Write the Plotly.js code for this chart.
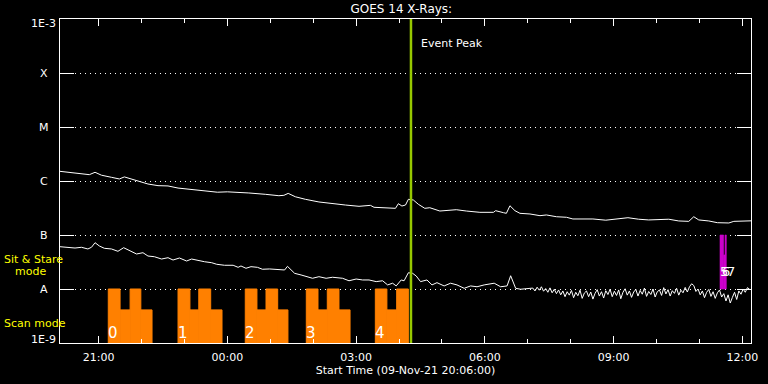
<!DOCTYPE html>
<html>
<head>
<meta charset="utf-8">
<script src="https://cdn.plot.ly/plotly-3.0.1.min.js"></script>
<style>
html,body{margin:0;padding:0;background:#000;}
#chart{width:768px;height:384px;}
</style>
</head>
<body>
<div id="chart"></div>
<script>
// ---------------- DATA ----------------
const startTime = '2021-11-09 20:06:00';
const endTime = '2021-11-10 12:12:00';

// Long channel (upper curve): minutes after start, flux (W/m^2)
const longMinutes = [0,16,27,41,49,58,72,83,90,99,111,123,137,151,165,179,193,211,220,234,246,264,287,306,313,319,329,343,362,380,399,418,434,439,466,469,473,478,483,487,494,501,510,517,531,554,568,587,606,609,620,624,629,636,643,657,671,680,694,708,717,745,763,777,794,809,823,851,865,879,886,893,907,919,935,942,958,966];
const longFlux = [1.51e-6,1.43e-6,1.35e-6,1.31e-6,1.45e-6,1.28e-6,1.17e-6,1.09e-6,1.19e-6,1.09e-6,
  9.6e-7,8.8e-7,8.2e-7,8.1e-7,7.4e-7,7.1e-7,6.8e-7,6.45e-7,6.2e-7,6.3e-7,
  6.1e-7,6.0e-7,5.67e-7,5.34e-7,5.43e-7,5.9e-7,5.11e-7,4.58e-7,4.09e-7,3.8e-7,
  3.59e-7,3.4e-7,3.54e-7,3.26e-7,3.16e-7,3.12e-7,3.8e-7,3.44e-7,3.59e-7,4.58e-7,
  4.45e-7,3.7e-7,3.12e-7,3.2e-7,2.78e-7,2.94e-7,2.78e-7,2.63e-7,2.63e-7,2.82e-7,
  2.59e-7,2.52e-7,3.48e-7,2.82e-7,2.52e-7,2.45e-7,2.28e-7,2.35e-7,2.18e-7,2.13e-7,
  1.98e-7,1.98e-7,1.88e-7,1.96e-7,2.09e-7,1.96e-7,1.9e-7,1.96e-7,1.82e-7,1.79e-7,
  2.18e-7,1.9e-7,1.82e-7,1.69e-7,1.67e-7,1.79e-7,1.79e-7,1.83e-7];

// Short channel (lower curve)
const shortMinutes = [0,11,21,30,39,44,49,55,62,72,81,89,97,107,116,123,132,142,151,158,
  167,177,184,193,202,212,219,230,242,249,253,260,267,276,283,293,307,314,318,328,
  337,346,353,362,372,381,395,404,414,423,432,442,451,458,465,470,477,481,487,493,
  498,504,513,520,527,537,546,555,565,574,583,593,607,616,625,630,637,644,
  661,664,667,670,673,676,679,682,685,688,
  691,694,697,700,703,706,709,712,715,718,
  721,724,727,730,733,736,739,742,745,748,
  751,754,757,760,763,766,769,772,775,778,
  781,784,787,790,793,796,799,802,805,808,
  811,814,817,820,823,826,829,832,835,838,
  841,844,847,850,853,856,859,862,865,868,
  871,874,877,880,883,886,889,892,895,898,
  901,904,907,910,913,916,919,922,925,928,
  931,934,937,940,943,946,949,952,955,958,
  961,964];
const shortFlux = [6.07e-8,5.92e-8,5.74e-8,5.92e-8,5.51e-8,5.92e-8,7.2e-8,6.26e-8,5.67e-8,5.51e-8,
  4.99e-8,5.82e-8,5.12e-8,4.45e-8,4.70e-8,4.08e-8,3.96e-8,3.59e-8,3.80e-8,3.44e-8,
  3.75e-8,3.30e-8,3.59e-8,3.34e-8,3.20e-8,3.07e-8,2.87e-8,2.75e-8,2.75e-8,2.52e-8,
  2.67e-8,2.42e-8,2.59e-8,2.52e-8,2.32e-8,2.35e-8,2.25e-8,2.25e-8,2.63e-8,1.95e-8,
  1.82e-8,1.69e-8,1.58e-8,1.69e-8,1.58e-8,1.65e-8,1.58e-8,1.42e-8,1.53e-8,1.47e-8,
  1.47e-8,1.37e-8,1.42e-8,1.19e-8,1.28e-8,1.14e-8,1.47e-8,1.42e-8,2.0e-8,1.95e-8,
  1.74e-8,1.37e-8,1.47e-8,1.19e-8,1.31e-8,1.14e-8,1.28e-8,1.19e-8,1.03e-8,1.14e-8,
  1.10e-8,1.19e-8,1.28e-8,1.10e-8,1.14e-8,1.76e-8,1.03e-8,0.99e-8,
  1.04e-8,0.92e-8,1.08e-8,0.95e-8,1.10e-8,0.91e-8,1.02e-8,0.87e-8,1.05e-8,0.85e-8,
  0.99e-8,0.82e-8,0.96e-8,0.78e-8,0.92e-8,0.72e-8,0.89e-8,0.77e-8,0.94e-8,0.69e-8,
  0.87e-8,0.75e-8,0.95e-8,0.67e-8,0.84e-8,0.92e-8,0.72e-8,0.88e-8,0.65e-8,0.83e-8,
  0.97e-8,0.74e-8,0.89e-8,0.68e-8,0.93e-8,0.79e-8,0.99e-8,0.72e-8,0.91e-8,0.76e-8,
  0.96e-8,0.66e-8,0.87e-8,1.01e-8,0.77e-8,0.92e-8,0.70e-8,0.88e-8,0.98e-8,0.74e-8,
  0.94e-8,0.80e-8,1.04e-8,0.73e-8,0.90e-8,0.79e-8,1.0e-8,0.71e-8,0.89e-8,0.96e-8,
  0.76e-8,1.06e-8,0.81e-8,0.97e-8,0.74e-8,0.93e-8,0.83e-8,1.03e-8,0.77e-8,0.95e-8,
  0.85e-8,1.07e-8,0.88e-8,1.10e-8,1.25e-8,1.16e-8,0.90e-8,1.0e-8,0.78e-8,0.92e-8,
  0.69e-8,0.87e-8,0.98e-8,0.73e-8,0.89e-8,0.67e-8,0.85e-8,0.96e-8,0.71e-8,0.82e-8,
  0.60e-8,0.78e-8,0.55e-8,0.70e-8,0.87e-8,0.64e-8,0.92e-8,0.80e-8,1.0e-8,0.87e-8,
  1.06e-8,0.99e-8];

// Scan mode segments
const scanStart = ['2021-11-09 21:13:30','2021-11-09 21:30:00','2021-11-09 21:44:00','2021-11-09 21:59:00',
  '2021-11-09 22:51:00','2021-11-09 23:07:40','2021-11-09 23:20:00','2021-11-09 23:36:40',
  '2021-11-10 00:25:00','2021-11-10 00:41:20','2021-11-10 00:54:00','2021-11-10 01:10:20',
  '2021-11-10 01:50:20','2021-11-10 02:06:40','2021-11-10 02:19:40','2021-11-10 02:36:00',
  '2021-11-10 03:26:50','2021-11-10 03:43:00','2021-11-10 03:56:40'];
const scanEnd = ['2021-11-09 21:30:00','2021-11-09 21:44:00','2021-11-09 21:59:00','2021-11-09 22:14:40',
  '2021-11-09 23:07:40','2021-11-09 23:20:00','2021-11-09 23:36:40','2021-11-09 23:52:30',
  '2021-11-10 00:41:20','2021-11-10 00:54:00','2021-11-10 01:10:20','2021-11-10 01:24:40',
  '2021-11-10 02:06:40','2021-11-10 02:19:40','2021-11-10 02:36:00','2021-11-10 02:51:30',
  '2021-11-10 03:43:00','2021-11-10 03:56:40','2021-11-10 04:13:00'];
const scanTop = [1e-8,4.1e-9,1e-8,4.1e-9, 1e-8,4.1e-9,1e-8,4.1e-9, 1e-8,4.1e-9,1e-8,4.1e-9,
  1e-8,4.1e-9,1e-8,4.1e-9, 1e-8,4.1e-9,1e-8];
const scanBase = 1e-9;
const scanLabels = ['0','1','2','3','4'];
const scanLabelTimes = ['2021-11-09 21:13:30','2021-11-09 22:51:00','2021-11-10 00:25:00','2021-11-10 01:50:20','2021-11-10 03:26:50'];

// Sit & Stare segments
const ssStart = ['2021-11-10 11:28:40','2021-11-10 11:33:40','2021-11-10 11:35:40'];
const ssEnd = ['2021-11-10 11:33:40','2021-11-10 11:35:40','2021-11-10 11:37:30'];
const ssTop = [1e-7,4.27e-8,1e-7];
const ssBase = 1e-8;
const ssLabels = ['5','6','7'];
const ssLabelTimes = ['2021-11-10 11:28:40','2021-11-10 11:31:40','2021-11-10 11:38:30'];

const eventPeak = '2021-11-10 04:16:40';

const levelVals = [1e-9,1e-8,1e-7,1e-6,1e-5,1e-4,1e-3];
const levelText = ['1E-9','A','B','C','M','X','1E-3'];

// ---------------- HELPERS ----------------
const t0 = Date.UTC(2021,10,9,20,6,0);
function pad(n){return String(n).padStart(2,'0');}
function fmt(ms){const d=new Date(ms);return d.getUTCFullYear()+'-'+pad(d.getUTCMonth()+1)+'-'+pad(d.getUTCDate())+' '+pad(d.getUTCHours())+':'+pad(d.getUTCMinutes())+':'+pad(d.getUTCSeconds());}
function toMs(s){return Date.parse(s.replace(' ','T')+'Z');}
const minToDate = m => fmt(t0 + m*60000);

const FONT = 'DejaVu Sans';
const W = '#ffffff';
const ORANGE = '#ff8000';
const MAGENTA = '#cc00cc';

const traces = [
  {type:'bar', x:scanStart, y:scanTop.map(v=>v-scanBase), base:scanBase,
   width:scanStart.map((s,i)=>toMs(scanEnd[i])-toMs(s)), offset:0,
   marker:{color:ORANGE, line:{width:1, color:ORANGE}}, hoverinfo:'skip', showlegend:false},
  {type:'bar', x:ssStart, y:ssTop.map(v=>v-ssBase), base:ssBase,
   width:ssStart.map((s,i)=>toMs(ssEnd[i])-toMs(s)), offset:0,
   marker:{color:MAGENTA, line:{width:0.6, color:MAGENTA}}, hoverinfo:'skip', showlegend:false},
  {type:'scatter', mode:'lines', x:longMinutes.map(minToDate), y:longFlux,
   line:{color:W, width:1}, showlegend:false},
  {type:'scatter', mode:'lines', x:shortMinutes.map(minToDate), y:shortFlux,
   line:{color:W, width:1}, showlegend:false},
  {type:'scatter', mode:'lines', x:[eventPeak,eventPeak], y:[levelVals[0], levelVals[levelVals.length-1]],
   line:{color:'#96c800', width:2.5}, showlegend:false}
];

const annotations = [];
levelVals.forEach((v,i)=>{
  annotations.push({xref:'paper', yref:'y', x:-0.0235, y:Math.log10(v), text:levelText[i],
    showarrow:false, xanchor:'center', yanchor:'middle',
    yshift: i===0 ? 4 : (i===levelVals.length-1 ? -4 : 0),
    font:{family:FONT, size:11, color:W}});
});
scanLabels.forEach((t,i)=>{
  annotations.push({xref:'x', yref:'paper', x:scanLabelTimes[i], y:0.0324, text:t, showarrow:false,
    xanchor:'left', yanchor:'middle', xshift:-2, font:{family:FONT, size:15, color:W}});
});
ssLabels.forEach((t,i)=>{
  annotations.push({xref:'x', yref:'paper', x:ssLabelTimes[i], y:0.2207, text:t, showarrow:false,
    xanchor:'left', yanchor:'middle', xshift:-2, font:{family:FONT, size:13, color:W}});
});
annotations.push({xref:'x', yref:'paper', x:eventPeak, y:0.925, text:'Event Peak', showarrow:false,
  xanchor:'left', yanchor:'middle', xshift:8, font:{family:FONT, size:11, color:W}});
annotations.push({xref:'paper', yref:'paper', x:-0.0839, y:0.259, text:'Sit & Stare', showarrow:false,
  xanchor:'left', yanchor:'middle', font:{family:FONT, size:11, color:'#ffff00'}});
annotations.push({xref:'paper', yref:'paper', x:-0.0684, y:0.222, text:'mode', showarrow:false,
  xanchor:'left', yanchor:'middle', font:{family:FONT, size:11, color:'#ffff00'}});
annotations.push({xref:'paper', yref:'paper', x:-0.0839, y:0.0596, text:'Scan mode', showarrow:false,
  xanchor:'left', yanchor:'middle', font:{family:FONT, size:11, color:'#ffff00'}});

const layout = {
  width:768, height:384,
  paper_bgcolor:'#000', plot_bgcolor:'#000',
  margin:{l:60, r:17, t:19, b:41, pad:0},
  barmode:'overlay',
  showlegend:false,
  font:{family:FONT, size:11, color:W},
  title:{text:'GOES 14 X-Rays:', font:{family:FONT, size:12, color:W},
    xref:'paper', x:0.494, xanchor:'center', yref:'container', y:0.976, yanchor:'middle'},
  xaxis:{type:'date', range:[startTime, endTime], tick0:'2021-11-09 21:00:00', dtick:10800000,
    tickformat:'%H:%M', ticks:'inside', ticklen:7, tickcolor:W, tickwidth:1,
    showline:true, linecolor:W, linewidth:1, mirror:'ticks', showgrid:false, zeroline:false,
    minor:{tick0:'2021-11-09 21:00:00', dtick:3600000, ticks:'inside', ticklen:4, tickcolor:W, showgrid:false},
    tickfont:{family:FONT, size:11, color:W}, ticklabelstandoff:4,
    title:{text:'Start Time (09-Nov-21 20:06:00)', font:{family:FONT, size:11, color:W}, standoff:2},
    automargin:false, fixedrange:true},
  yaxis:{type:'log', range:[-9,-3], tickvals:levelVals, showticklabels:false,
    ticks:'inside', ticklen:14, tickcolor:W, tickwidth:1,
    showline:true, linecolor:W, linewidth:1, mirror:'ticks',
    showgrid:true, gridcolor:W, gridwidth:1, griddash:'1px,4px', zeroline:false,
    automargin:false, fixedrange:true},
  annotations:annotations
};

Plotly.newPlot('chart', traces, layout, {staticPlot:true, displayModeBar:false});
</script>
</body>
</html>
